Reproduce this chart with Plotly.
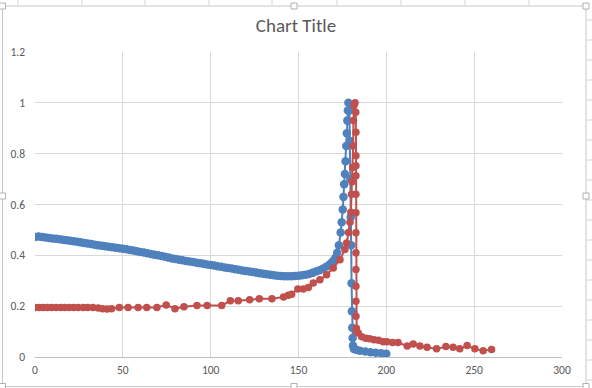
import plotly.graph_objects as go

# ---- data ----
blue_x = [0, 2, 4, 6, 8, 10, 12, 14, 16, 18, 20, 22, 24, 26, 28, 30, 32, 34, 36, 38,
          40, 42, 44, 46, 48, 50, 52, 54, 56, 58, 60, 62, 64, 66, 68, 70, 72, 74, 76, 78,
          80, 82, 84, 86, 88, 90, 92, 94, 96, 98, 100, 102, 104, 106, 108, 110, 112, 114,
          116, 118, 120, 122, 124, 126, 128, 130, 132, 134, 136, 138, 140, 142, 144, 146,
          148, 150, 152, 154, 156, 158, 160, 162, 164, 166, 168, 169, 170, 171, 172, 173,
          174, 174.6, 175.2, 175.6, 176, 176.4, 176.8, 177.2, 177.5, 177.8, 178.1, 178.4,
          179.0, 179.3, 179.5, 179.7, 180.0, 180.2, 180.4, 180.6, 180.8, 181.0, 181.5,
          183, 185, 188, 191, 194, 197, 200]
blue_y = [0.472, 0.474, 0.472, 0.470, 0.468, 0.466, 0.465, 0.463, 0.461, 0.459, 0.457,
          0.455, 0.453, 0.451, 0.449, 0.447, 0.445, 0.442, 0.440, 0.438, 0.436, 0.434,
          0.432, 0.430, 0.428, 0.426, 0.424, 0.421, 0.419, 0.416, 0.413, 0.411, 0.408,
          0.405, 0.402, 0.400, 0.397, 0.394, 0.391, 0.388, 0.386, 0.383, 0.381, 0.378,
          0.376, 0.374, 0.371, 0.369, 0.367, 0.364, 0.362, 0.360, 0.357, 0.355, 0.352,
          0.350, 0.348, 0.345, 0.343, 0.340, 0.338, 0.336, 0.334, 0.332, 0.330, 0.328,
          0.326, 0.324, 0.322, 0.320, 0.319, 0.318, 0.318, 0.318, 0.319, 0.320, 0.322,
          0.324, 0.327, 0.331, 0.336, 0.341, 0.348, 0.356, 0.366, 0.372, 0.380, 0.39,
          0.41, 0.44, 0.49, 0.53, 0.58, 0.63, 0.68, 0.72, 0.77, 0.83, 0.88, 0.93, 0.97,
          1.0, 0.97, 0.85, 0.70, 0.55, 0.44, 0.29, 0.18, 0.115, 0.075, 0.045, 0.032,
          0.028, 0.025, 0.022, 0.019, 0.017, 0.015, 0.013]

red_x = [0, 2.5, 4.7, 7, 9.5, 12, 14.6, 17, 19.5, 22, 24.6, 27.5, 30, 33, 36, 38.5, 41,
         43.6, 48, 53, 58.7, 63.6, 69.4, 74.7, 79.7, 84.8, 92.2, 98, 106.3, 111.2, 115.7,
         122.2, 127.7, 134.9, 141.5, 144.2, 146.1, 149.6, 152.7, 155.6, 158.4, 162.2, 166,
         169.8, 173.6, 176.4, 177.4, 178.5, 179.3, 179.8, 180.2, 180.5, 180.8, 181.1,
         181.3, 181.6, 182.2, 182.6, 182.7, 182.7, 182.7, 182.7, 182.7, 182.7, 182.7,
         182.7, 182.7, 182.7, 182.7, 182.7, 182.9, 183.1, 184, 186, 188.3, 190.5, 193,
         195.6, 198.2, 200.3, 203.5, 206.7, 211.9, 215.3, 219.1, 223.2, 228.6, 233.9, 238,
         241.8, 246, 250.4, 255.1, 259.9]
red_y = [0.195, 0.195, 0.195, 0.195, 0.195, 0.195, 0.195, 0.195, 0.195, 0.195, 0.195,
         0.195, 0.195, 0.195, 0.193, 0.190, 0.189, 0.190, 0.195, 0.195, 0.195, 0.195,
         0.195, 0.205, 0.190, 0.198, 0.203, 0.203, 0.203, 0.221, 0.221, 0.225, 0.229,
         0.229, 0.236, 0.243, 0.247, 0.268, 0.268, 0.273, 0.291, 0.304, 0.324, 0.350,
         0.383, 0.423, 0.449, 0.49, 0.53, 0.57, 0.64, 0.69, 0.746, 0.83, 0.93, 0.99, 1.0,
         0.963, 0.884, 0.792, 0.752, 0.713, 0.640, 0.568, 0.489, 0.410, 0.344, 0.278,
         0.219, 0.160, 0.113, 0.100, 0.094, 0.080, 0.074, 0.072, 0.068, 0.066, 0.060,
         0.060, 0.057, 0.057, 0.043, 0.051, 0.043, 0.038, 0.032, 0.041, 0.038, 0.032,
         0.045, 0.032, 0.025, 0.030]

x_ticks = [0, 50, 100, 150, 200, 250, 300]
y_ticks = [0, 0.2, 0.4, 0.6, 0.8, 1.0, 1.2]
y_labels = ["0", "0.2", "0.4", "0.6", "0.8", "1", "1.2"]

BLUE = "#4F81BD"
RED = "#C0504D"
FONT = "Calibri, Carlito, Lato, 'Open Sans', sans-serif"

W, H = 592, 388
L, R, T, B = 35, 30, 52, 31
PW, PH = W - L - R, H - T - B


def px(xp):
    return (xp - L) / PW


def py(yp):
    return (H - B - yp) / PH


fig = go.Figure()
fig.add_trace(go.Scatter(x=blue_x, y=blue_y, mode="lines+markers",
                         line=dict(color=BLUE, width=2),
                         marker=dict(color=BLUE, size=8.5), showlegend=False))
fig.add_trace(go.Scatter(x=red_x, y=red_y, mode="lines+markers",
                         line=dict(color=RED, width=2),
                         marker=dict(color=RED, size=7.5), showlegend=False))

fig.update_layout(
    width=W, height=H,
    margin=dict(l=L, r=R, t=T, b=B, autoexpand=False),
    paper_bgcolor="white", plot_bgcolor="white",
    title=dict(text="Chart Title", x=0.5, xanchor="center", y=1 - 25 / H, yanchor="middle",
               font=dict(family=FONT, size=19, color="#595959")),
    font=dict(family=FONT, size=11.5, color="#595959"),
    xaxis=dict(range=[0, 300], tickvals=x_ticks, ticktext=[str(v) for v in x_ticks],
               showgrid=True, gridcolor="#D9D9D9", gridwidth=1, zeroline=False,
               showline=True, linecolor="#BFBFBF", linewidth=1, ticks="",
               ticklabelstandoff=2, automargin=False, fixedrange=True),
    yaxis=dict(range=[0, 1.2], tickvals=y_ticks, ticktext=y_labels,
               showgrid=True, gridcolor="#D9D9D9", gridwidth=1, zeroline=False,
               showline=False, ticks="", ticklabelstandoff=9,
               automargin=False, fixedrange=True),
)

# spreadsheet cell lines outside the chart (top strip and right strip)
for xp in [18, 82, 145, 209, 272, 337, 401, 465, 529]:
    fig.add_shape(type="line", xref="paper", yref="paper",
                  x0=px(xp), x1=px(xp), y0=py(0), y1=py(5),
                  line=dict(color="#D4D4D4", width=1), layer="below")
for yp in [20, 40, 60, 80, 100, 120, 140, 160, 180, 200, 220, 240, 260, 280, 300,
           320, 340, 360, 380]:
    fig.add_shape(type="line", xref="paper", yref="paper",
                  x0=px(587), x1=px(592), y0=py(yp), y1=py(yp),
                  line=dict(color="#D4D4D4", width=1), layer="below")

# chart frame
fig.add_shape(type="rect", xref="paper", yref="paper",
              x0=px(2.5), x1=px(586), y0=py(386.5), y1=py(6),
              line=dict(color="#C8C8C8", width=1), layer="below")
# selection handles
for hx, hy in [(2.5, 6), (294, 6), (586, 6), (2.5, 196), (586, 196),
               (2.5, 386.5), (294, 386.5), (586, 386.5)]:
    fig.add_shape(type="rect", xref="paper", yref="paper",
                  x0=px(hx - 3), x1=px(hx + 3), y0=py(hy + 3), y1=py(hy - 3),
                  line=dict(color="#B0B0B0", width=1), fillcolor="white", layer="above")

fig.write_html("out.html", config={"displayModeBar": False},
               post_script="document.body.style.margin='0';")
